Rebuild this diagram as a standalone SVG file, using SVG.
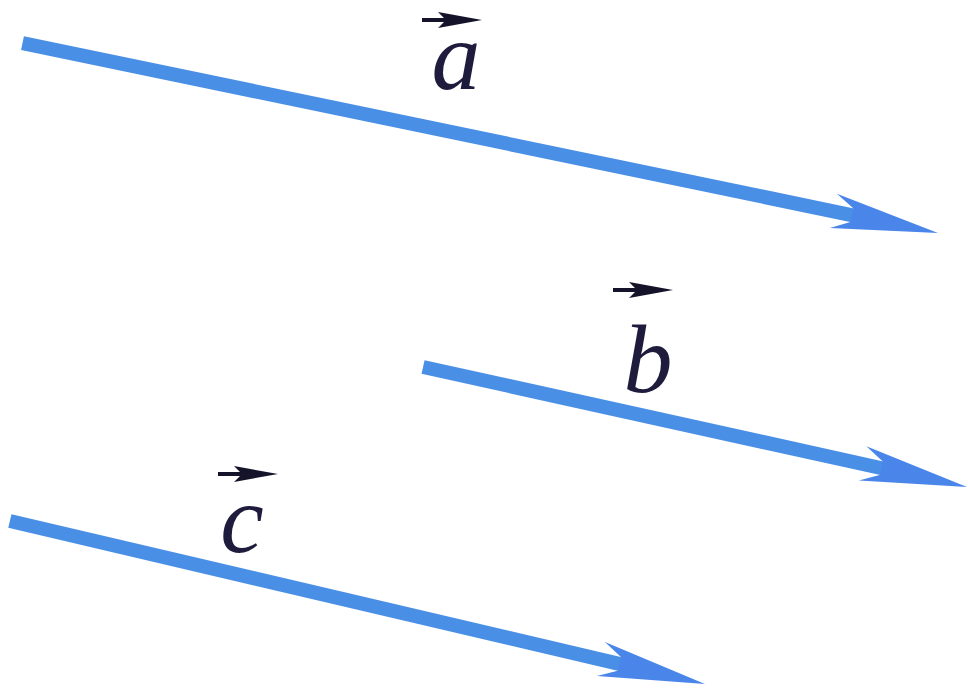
<svg xmlns="http://www.w3.org/2000/svg" xmlns:xlink="http://www.w3.org/1999/xlink" width="968" height="691" viewBox="0 0 968 691">
<style>
.shaft{fill:#4a8fe6}
.head{fill:#4a86ea}
.lbl{font-family:"Liberation Serif","Times New Roman",serif;font-style:italic;font-size:98px;fill:#1e1b3c;text-anchor:middle}
.small{fill:#15132a}
</style>
<defs>
<path id="bighead" class="head" d="M0,0 L-107,-18 L-88,-7 L-88,7 L-107,17 Z"/>
<path id="over" class="small" d="M0,0 L-44,-8 L-38,-2 L-60,-2 L-60,2 L-38,2 L-44,8 Z"/>
</defs>
<rect width="968" height="691" fill="#ffffff"/>
<g id="connectors">
<g id="vector-a" transform="translate(938,233) rotate(11.72)">
<rect class="shaft" x="-935" y="-7" width="849" height="14"/>
<use xlink:href="#bighead" href="#bighead"/>
</g>
<g id="vector-b" transform="translate(967,487) rotate(12.44)">
<rect class="shaft" x="-557" y="-7" width="471" height="14"/>
<use xlink:href="#bighead" href="#bighead"/>
</g>
<g id="vector-c" transform="translate(705,684) rotate(13.2)">
<rect class="shaft" x="-714" y="-7" width="628" height="14"/>
<use xlink:href="#bighead" href="#bighead"/>
</g>
</g>
<g id="label-a">
<use xlink:href="#over" href="#over" x="482" y="20"/>
<text class="lbl" x="456" y="89">a</text>
</g>
<g id="label-b">
<use xlink:href="#over" href="#over" x="673" y="290"/>
<text class="lbl" x="648" y="392">b</text>
</g>
<g id="label-c">
<use xlink:href="#over" href="#over" x="278" y="474"/>
<text class="lbl" x="242" y="552">c</text>
</g>
</svg>
